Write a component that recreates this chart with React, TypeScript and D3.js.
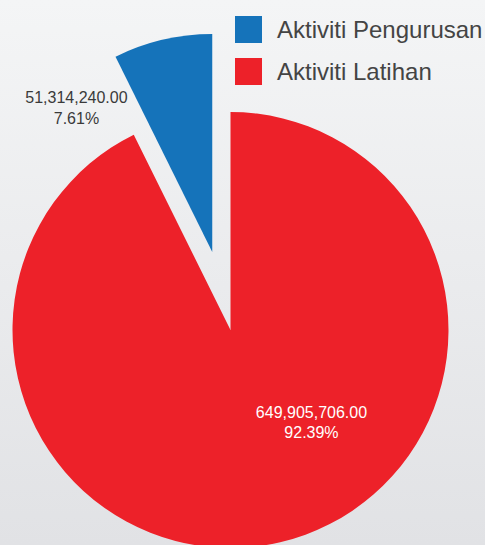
import React from "react";
import * as d3 from "d3";

const categories = ["Aktiviti Pengurusan", "Aktiviti Latihan"];
const amounts = [51314240.0, 649905706.0];
const amountLabels = ["51,314,240.00", "649,905,706.00"];
const percentLabels = ["7.61%", "92.39%"];
const colors = ["#1573ba", "#ed2129"];
const exploded = [true, false];

const W = 485;
const H = 545;
const cx = 230.5;
const cy = 330;
const R = 218;
const explode = 80;

export default function App() {
  const data = categories.map((c, i) => ({ c, v: amounts[i], i }));
  const pie = d3.pie<any>().value((d) => d.v);
  const arcs = pie(data);
  const arcGen = d3.arc<any>().innerRadius(0).outerRadius(R);

  // label placement (polar, relative to pie centre)
  const labelPos = [
    { a: (325.5 * Math.PI) / 180, r: 272, fill: "#3a3a3a" },
    { a: (138 * Math.PI) / 180, r: 121, fill: "#ffffff" },
  ];

  return (
    <svg
      width={W}
      height={H}
      style={{ position: "absolute", left: 0, top: 0 }}
      fontFamily="'Liberation Sans', Arial, Helvetica, sans-serif"
    >
      <defs>
        <linearGradient id="bg" x1="0" y1="0" x2="0" y2="1">
          <stop offset="0" stopColor="#f4f5f6" />
          <stop offset="1" stopColor="#e1e2e5" />
        </linearGradient>
      </defs>
      <rect x={0} y={0} width={W} height={H} fill="url(#bg)" />
      <g transform={`translate(${cx},${cy})`}>
        {arcs.map((a) => {
          const i = a.data.i;
          const mid = (a.startAngle + a.endAngle) / 2;
          const dx = exploded[i] ? Math.sin(mid) * explode : 0;
          const dy = exploded[i] ? -Math.cos(mid) * explode : 0;
          return (
            <path
              key={i}
              d={arcGen(a) as string}
              fill={colors[i]}
              transform={`translate(${dx},${dy})`}
            />
          );
        })}
        {categories.map((c, i) => {
          const p = labelPos[i];
          const x = Math.sin(p.a) * p.r;
          const y = -Math.cos(p.a) * p.r;
          return (
            <text
              key={c}
              x={x}
              y={y}
              textAnchor="middle"
              fontSize={16}
              fill={p.fill}
            >
              <tspan x={x} dy="-0.15em">
                {amountLabels[i]}
              </tspan>
              <tspan x={x} dy="1.3em">
                {percentLabels[i]}
              </tspan>
            </text>
          );
        })}
      </g>
      <g transform="translate(235,16)">
        {categories.map((c, i) => (
          <g key={c} transform={`translate(0,${i * 42})`}>
            <rect width={27} height={27} fill={colors[i]} />
            <text x={42} y={21.5} fontSize={24} fill="#444444">
              {c}
            </text>
          </g>
        ))}
      </g>
    </svg>
  );
}
